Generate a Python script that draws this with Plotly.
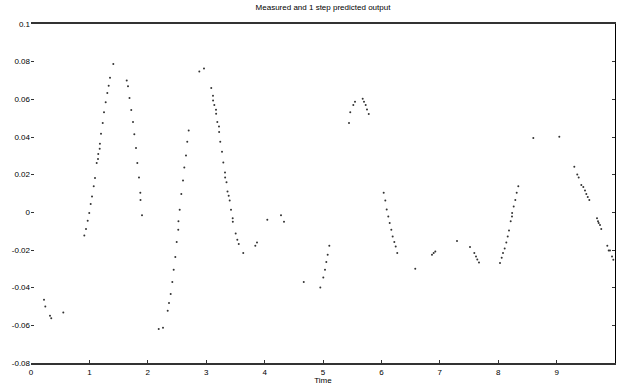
import plotly.graph_objects as go

# Time values of the scattered output samples
time = [
    0.223, 0.245, 0.325, 0.347, 0.553,
    0.913, 0.942, 0.971, 0.998, 1.022, 1.045, 1.074, 1.096, 1.125, 1.147, 1.152, 1.176, 1.18,
    1.199, 1.228, 1.250, 1.279, 1.307, 1.330, 1.353, 1.409,
    1.639, 1.661, 1.687, 1.717, 1.747, 1.769, 1.798, 1.820, 1.849, 1.872, 1.875, 1.901,
    2.187, 2.260, 2.341, 2.363, 2.392, 2.420, 2.443, 2.471, 2.495, 2.522, 2.525, 2.546,
    2.574, 2.603, 2.625, 2.654, 2.676, 2.700,
    2.882, 2.962, 3.087, 3.116, 3.118, 3.139, 3.168, 3.170, 3.190, 3.219, 3.221, 3.241,
    3.271, 3.293, 3.322, 3.324, 3.348, 3.365, 3.385, 3.402, 3.425, 3.454, 3.456, 3.505,
    3.533, 3.557, 3.635, 3.841, 3.870, 4.046, 4.281, 4.332,
    4.670, 4.954, 5.005, 5.034, 5.057, 5.080, 5.108,
    5.445, 5.467, 5.519, 5.548, 5.680, 5.702, 5.731, 5.753, 5.783,
    6.039, 6.067, 6.091, 6.118, 6.142, 6.170, 6.193, 6.221, 6.245, 6.272,
    6.580, 6.866, 6.895, 6.923, 7.295, 7.517, 7.591, 7.620, 7.642, 7.671,
    8.031, 8.060, 8.082, 8.111, 8.139, 8.163, 8.185, 8.214, 8.236, 8.238, 8.265, 8.293,
    8.317, 8.344,
    8.601, 9.046, 9.303, 9.354, 9.378, 9.423, 9.457, 9.486, 9.509, 9.533, 9.560,
    9.692, 9.709, 9.721, 9.743, 9.765, 9.868, 9.892, 9.914, 9.949, 9.971,
]

# Output values of the samples
output = [
    -0.0464, -0.0500, -0.0549, -0.0563, -0.0532,
    -0.0123, -0.0089, -0.0045, -0.0004, 0.0044, 0.0084, 0.0138, 0.0182, 0.0262, 0.0283, 0.0310, 0.0338, 0.0364,
    0.0417, 0.0474, 0.0531, 0.0584, 0.0634, 0.0672, 0.0715, 0.0788,
    0.0700, 0.0669, 0.0607, 0.0543, 0.0480, 0.0414, 0.0341, 0.0262, 0.0185, 0.0104, 0.0065, -0.0016,
    -0.0620, -0.0613, -0.0523, -0.0482, -0.0434, -0.0370, -0.0305, -0.0237, -0.0158, -0.0092, -0.0048, 0.0014,
    0.0097, 0.0169, 0.0238, 0.0302, 0.0375, 0.0435,
    0.0748, 0.0764, 0.0660, 0.0619, 0.0594, 0.0570, 0.0545, 0.0524, 0.0480, 0.0456, 0.0426, 0.0375,
    0.0322, 0.0265, 0.0212, 0.0185, 0.0160, 0.0111, 0.0088, 0.0063, 0.0014, -0.0032, -0.0050, -0.0112,
    -0.0146, -0.0168, -0.0216, -0.0177, -0.0160, -0.0039, -0.0016, -0.0050,
    -0.0370, -0.0399, -0.0346, -0.0305, -0.0264, -0.0225, -0.0177,
    0.0474, 0.0531, 0.0570, 0.0587, 0.0603, 0.0587, 0.0570, 0.0546, 0.0522,
    0.0104, 0.0063, 0.0015, -0.0022, -0.0057, -0.0092, -0.0128, -0.0158, -0.0181, -0.0216,
    -0.0300, -0.0225, -0.0216, -0.0208, -0.0152, -0.0184, -0.0216, -0.0234, -0.0250, -0.0266,
    -0.0269, -0.0241, -0.0216, -0.0192, -0.0160, -0.0128, -0.0096, -0.0048, -0.0022, -0.0004, 0.0031, 0.0065,
    0.0104, 0.0138,
    0.0395, 0.0401, 0.0242, 0.0201, 0.0185, 0.0145, 0.0134, 0.0116, 0.0097, 0.0081, 0.0065,
    -0.0032, -0.0048, -0.0057, -0.0067, -0.0089, -0.0177, -0.0202, -0.0202, -0.0234, -0.0252,
]

x_ticks = [0, 1, 2, 3, 4, 5, 6, 7, 8, 9, 10]
y_ticks = [0.1, 0.08, 0.06, 0.04, 0.02, 0, -0.02, -0.04, -0.06, -0.08]
y_tick_labels = ["0.1", "0.08", "0.06", "0.04", "0.02", "0", "-0.02", "-0.04", "-0.06", "-0.08"]

title_text = "Measured and 1 step predicted output"
x_title = "Time"

FONT = "Liberation Sans, Arial, sans-serif"

fig = go.Figure()
fig.add_trace(go.Scatter(
    x=time, y=output, mode="markers",
    marker=dict(size=2.0, color="#333333", line=dict(width=0)),
    showlegend=False, hoverinfo="skip",
))
# invisible trace to keep the right-hand axis drawn
fig.add_trace(go.Scatter(x=[0], y=[0], mode="markers", marker=dict(opacity=0),
                         yaxis="y2", showlegend=False, hoverinfo="skip"))

fig.update_layout(
    width=617, height=385,
    margin=dict(l=31, r=2, t=24, b=22),
    paper_bgcolor="white", plot_bgcolor="white",
    font=dict(family=FONT, size=8, color="black"),
    title=dict(text=title_text, x=0.5, xref="paper", xanchor="center",
               y=1, yref="container", yanchor="top", pad=dict(t=4),
               font=dict(family=FONT, size=8, color="black")),
    xaxis=dict(
        range=[0, 10], tickvals=x_ticks, ticktext=[str(v) for v in x_ticks],
        showgrid=False, zeroline=False,
        showline=True, linecolor="#333", linewidth=2, mirror=True,
        ticks="inside", ticklen=3, tickcolor="#333", tickwidth=1,
        tickfont=dict(size=8),
        title=dict(text=x_title, standoff=0, font=dict(size=8)),
    ),
    yaxis=dict(
        range=[-0.08, 0.1], tickvals=y_ticks, ticktext=y_tick_labels,
        showgrid=False, zeroline=False, showline=False,
        ticks="inside", ticklen=3, tickcolor="#333", tickwidth=1,
        tickfont=dict(size=8),
    ),
    yaxis2=dict(
        range=[-0.08, 0.1], tickvals=y_ticks, overlaying="y", side="right",
        showgrid=False, zeroline=False, showticklabels=False,
        showline=True, linecolor="black", linewidth=1.2,
        ticks="inside", ticklen=3, tickcolor="#333", tickwidth=1,
    ),
)

fig.write_html("out.html")
